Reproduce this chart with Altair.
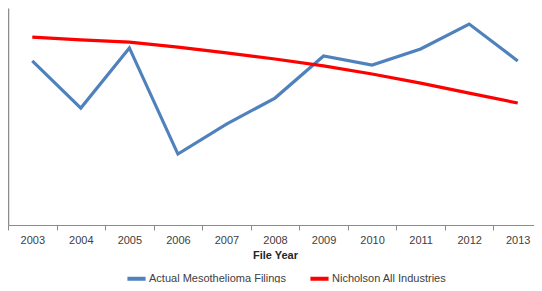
import altair as alt
import pandas as pd

years = ["2003", "2004", "2005", "2006", "2007", "2008", "2009", "2010", "2011", "2012", "2013"]
actual = [75.6, 53.9, 81.6, 32.7, 46.5, 58.5, 77.9, 73.7, 81.1, 92.6, 75.6]
nicholson = [86.6, 85.3, 84.3, 82.0, 79.3, 76.5, 73.3, 69.6, 65.4, 60.8, 56.2]
series = ["Actual Mesothelioma Filings", "Nicholson All Industries"]
colors = ["#4F81BD", "#FF0000"]

rows = []
for y, a, n in zip(years, actual, nicholson):
    rows.append({"year": y, "value": a, "series": series[0]})
    rows.append({"year": y, "value": n, "series": series[1]})
df = pd.DataFrame(rows)

FONT = "Liberation Sans, Arial"

chart = alt.Chart(df).mark_line(strokeWidth=3.2).encode(
    x=alt.X("year:O", sort=years,
            scale=alt.Scale(type="band", paddingInner=0, paddingOuter=0),
            axis=alt.Axis(title="File Year", tickBand="extent", labelAngle=0,
                          domainColor="#8c8c8c", tickColor="#8c8c8c", tickSize=5,
                          labelColor="#404040", labelFont=FONT, labelFontSize=11,
                          labelPadding=4, titleFont=FONT, titleFontSize=11,
                          titleFontWeight="bold", titleColor="#262626", titlePadding=4,
                          grid=False)),
    y=alt.Y("value:Q", scale=alt.Scale(domain=[0, 100], nice=False, zero=True),
            axis=alt.Axis(title=None, labels=False, ticks=False, grid=False,
                          domainColor="#8c8c8c", domainWidth=1.5)),
    color=alt.Color("series:N", sort=series,
                    scale=alt.Scale(domain=series, range=colors),
                    legend=alt.Legend(title=None, orient="none", direction="horizontal",
                                      legendX=117, legendY=259,
                                      symbolType="stroke", symbolSize=330,
                                      symbolStrokeWidth=4, labelFont=FONT,
                                      labelFontSize=11, labelColor="#404040",
                                      columnPadding=16, labelOffset=1)),
).properties(
    width=534, height=217,
    autosize=alt.AutoSizeParams(type="none"),
    padding={"left": 0, "top": 0, "right": -8, "bottom": 58},
).configure_view(stroke=None)

chart.save("out.html", embed_options={"renderer": "svg", "actions": False})
